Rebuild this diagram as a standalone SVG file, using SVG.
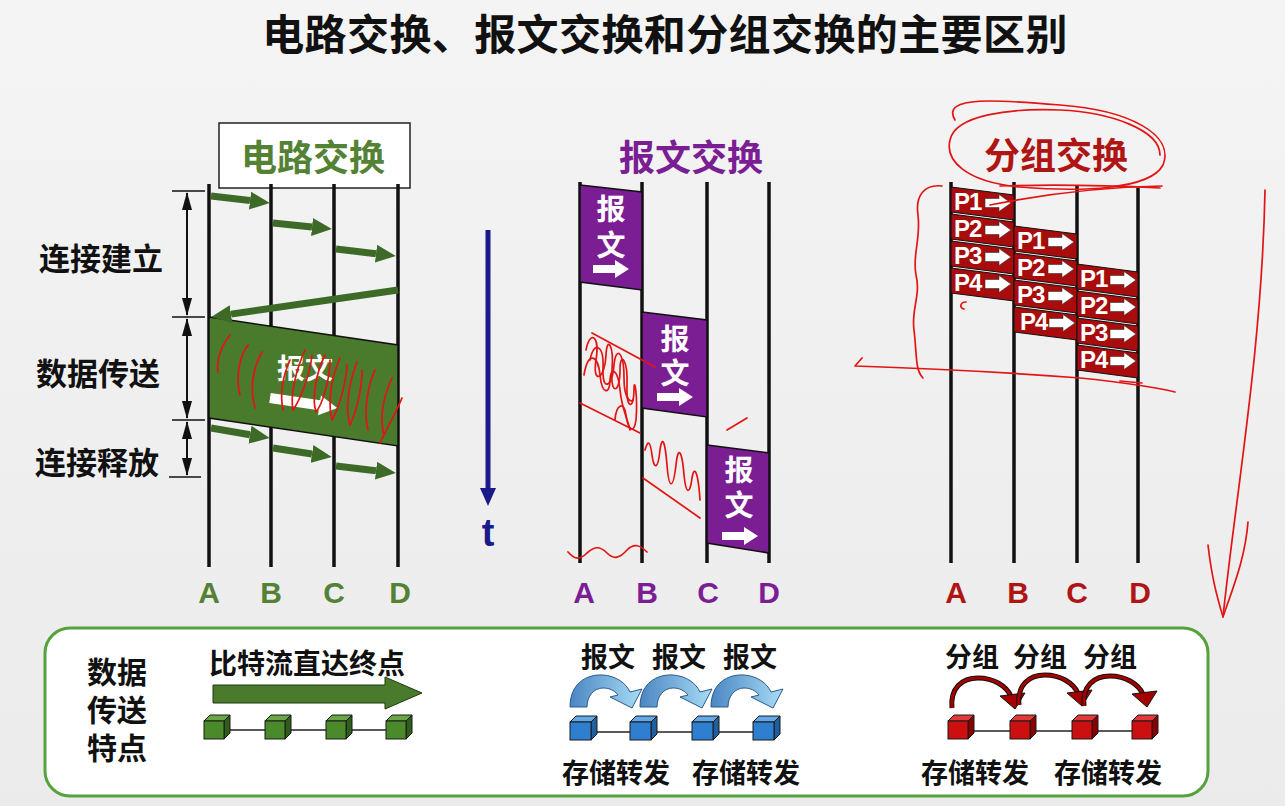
<svg xmlns="http://www.w3.org/2000/svg" width="1285" height="806" viewBox="0 0 1285 806">
<defs>
<linearGradient id="bg" x1="0" y1="0" x2="0" y2="1"><stop offset="0" stop-color="#f4f4f4"/><stop offset="1" stop-color="#ebebeb"/></linearGradient>
<linearGradient id="blueArr" x1="0" y1="0" x2="1" y2="0"><stop offset="0" stop-color="#4a86c2"/><stop offset="1" stop-color="#a8dcf5"/></linearGradient>
<marker id="gh" markerUnits="userSpaceOnUse" markerWidth="20" markerHeight="18" viewBox="0 0 20 18" refX="0" refY="9" orient="auto"><path d="M0,0 L20,9 L0,18 Z" fill="#3d6b27"/></marker>
<marker id="bh" markerUnits="userSpaceOnUse" markerWidth="18" markerHeight="10" viewBox="0 0 18 10" refX="17" refY="5" orient="auto-start-reverse"><path d="M0,0 L18,5 L0,10 Z" fill="#111"/></marker>
<path id="wArr" d="M0,-4 L22,-4 L22,-9 L36,0 L22,9 L22,4 L0,4 Z"/>
<path id="pArr" d="M0,-4.5 L14,-4.5 L14,-8.5 L26,0 L14,8.5 L14,4.5 L0,4.5 Z"/>
<path id="bArr" d="M0,0 C0,-24 17,-33 33,-32 C46,-31 56,-24 60,-15 L72,-18 L62,1 L40,-10 L48,-12 C44,-17 39,-19 33,-19 C24,-19 17,-11 17,0 Z"/>
</defs>
<style>
.cjk{font-family:'Liberation Sans','Noto Sans CJK SC','Noto Sans CJK JP',sans-serif;font-weight:700}
.lat{font-family:'Liberation Sans',Arial,sans-serif;font-weight:700}
.vl{stroke:#111;stroke-width:3.5}
.tick{stroke:#111;stroke-width:1.5}
.garr{stroke:#3d6b27;stroke-width:7;fill:none;marker-end:url(#gh)}
.darr{stroke:#111;stroke-width:2;marker-start:url(#bh);marker-end:url(#bh)}
.pur{fill:#7b1e94;stroke:#111;stroke-width:1.5}
.pkt{fill:#a80c0c;stroke:#111;stroke-width:1}
.wt{fill:#fff}
.scr{fill:none;stroke:#e31414;stroke-width:1.7;stroke-linecap:round;stroke-linejoin:round}
.link{stroke:#222;stroke-width:1.5}
.cs{stroke:#1a1a1a;stroke-width:1}
</style>
<rect width="1285" height="806" fill="url(#bg)"/>

<text class="cjk" x="665" y="50" font-size="42" font-weight="900" text-anchor="middle" fill="#111" letter-spacing="0.4">电路交换、报文交换和分组交换的主要区别</text>

<!-- Circuit switching -->
<g id="circuit">
<rect x="219" y="123" width="191" height="65" fill="#fff" stroke="#222" stroke-width="1.5"/>
<text class="cjk" x="313" y="171" font-size="36" text-anchor="middle" fill="#548235">电路交换</text>
<line class="vl" x1="209" y1="184" x2="209" y2="567"/>
<line class="vl" x1="271" y1="184" x2="271" y2="567"/>
<line class="vl" x1="334" y1="184" x2="334" y2="567"/>
<line class="vl" x1="398" y1="184" x2="398" y2="567"/>
<polygon points="209,317 398,345 398,446 209,418" fill="#4a7a2c" stroke="#111" stroke-width="1.5"/>
<text class="cjk" x="305" y="379" font-size="28" text-anchor="middle" fill="#fff">报文</text>
<path d="M0,-5 L50,-5 L50,-10 L68,0 L50,10 L50,5 L0,5 Z" fill="#fff" transform="translate(270,398) rotate(8.4)"/>
<g class="lat" font-size="30" fill="#548235" text-anchor="middle">
<text x="209" y="603">A</text><text x="271" y="603">B</text><text x="334" y="603">C</text><text x="400" y="603">D</text>
</g>
<g class="cjk" font-size="31" fill="#111" text-anchor="middle">
<text x="101" y="270">连接建立</text>
<text x="98" y="385">数据传送</text>
<text x="97" y="474">连接释放</text>
</g>
<line class="tick" x1="172" y1="191" x2="205" y2="191"/>
<line class="tick" x1="172" y1="317" x2="205" y2="317"/>
<line class="tick" x1="172" y1="420" x2="205" y2="420"/>
<line class="tick" x1="169" y1="477" x2="201" y2="477"/>
</g>

<!-- Message switching -->
<g id="message">
<text class="cjk" x="691" y="171" font-size="36" text-anchor="middle" fill="#7b1e94">报文交换</text>
<line x1="488" y1="230" x2="488" y2="490" stroke="#1a1a8a" stroke-width="5"/>
<polygon points="480,488 496,488 488,506" fill="#1a1a8a"/>
<text class="lat" x="488" y="546" font-size="38" text-anchor="middle" fill="#1a1a8a">t</text>
<line class="vl" x1="580" y1="182" x2="580" y2="563"/>
<line class="vl" x1="642" y1="182" x2="642" y2="563"/>
<line class="vl" x1="707" y1="182" x2="707" y2="563"/>
<line class="vl" x1="769" y1="182" x2="769" y2="563"/>
<polygon class="pur" points="580,185 642,192 642,290 580,282"/>
<polygon class="pur" points="642,312 707,320 707,417 642,408"/>
<polygon class="pur" points="707,445 769,453 769,553 707,543"/>
<g class="cjk" font-size="29" fill="#fff" text-anchor="middle">
<text x="611" y="220">报<tspan x="611" y="256">文</tspan></text>
<text x="675" y="350">报<tspan x="675" y="384">文</tspan></text>
<text x="739" y="481">报<tspan x="739" y="516">文</tspan></text>
</g>
<use href="#wArr" class="wt" transform="translate(593,269)"/>
<use href="#wArr" class="wt" transform="translate(657,397)"/>
<use href="#wArr" class="wt" transform="translate(722,536)"/>
<g class="lat" font-size="30" fill="#7b1e94" text-anchor="middle">
<text x="584" y="603">A</text><text x="647" y="603">B</text><text x="708" y="603">C</text><text x="769" y="603">D</text>
</g>
</g>

<!-- Packet switching -->
<g id="packet">
<text class="cjk" x="1056" y="169" font-size="36" text-anchor="middle" fill="#b01515">分组交换</text>
<line class="vl" x1="951" y1="182" x2="951" y2="563"/>
<line class="vl" x1="1014" y1="182" x2="1014" y2="563"/>
<line class="vl" x1="1077" y1="185" x2="1077" y2="563"/>
<line class="vl" x1="1138" y1="188" x2="1138" y2="563"/>
<g id="pktA">
<polygon class="pkt" points="951,187 1014,195 1014,220 951,212"/>
<polygon class="pkt" points="951,214 1014,222 1014,247 951,239"/>
<polygon class="pkt" points="951,241 1014,249 1014,274 951,266"/>
<polygon class="pkt" points="951,268 1014,276 1014,301 951,293"/>
</g>
<g id="pktB">
<polygon class="pkt" points="1014,226 1077,234 1077,259 1014,251"/>
<polygon class="pkt" points="1014,253 1077,261 1077,286 1014,278"/>
<polygon class="pkt" points="1014,280 1077,288 1077,313 1014,305"/>
<polygon class="pkt" points="1014,307 1077,315 1077,340 1014,332"/>
</g>
<g id="pktC">
<polygon class="pkt" points="1077,264 1138,272 1138,297 1077,289"/>
<polygon class="pkt" points="1077,291 1138,299 1138,324 1077,316"/>
<polygon class="pkt" points="1077,318 1138,326 1138,351 1077,343"/>
<polygon class="pkt" points="1077,345 1138,353 1138,378 1077,370"/>
</g>
<g class="lat" font-size="24" fill="#fff" letter-spacing="-1">
<text x="954" y="210">P1</text><text x="954" y="237">P2</text><text x="954" y="264">P3</text><text x="954" y="291">P4</text>
<text x="1017" y="249">P1</text><text x="1017" y="276">P2</text><text x="1017" y="303">P3</text><text x="1020" y="330">P4</text>
<text x="1080" y="287">P1</text><text x="1080" y="314">P2</text><text x="1080" y="341">P3</text><text x="1080" y="368">P4</text>
</g>
<g class="wt" stroke="#333" stroke-width="0.6">
<use href="#pArr" transform="translate(985,203)"/><use href="#pArr" transform="translate(985,230)"/><use href="#pArr" transform="translate(985,257)"/><use href="#pArr" transform="translate(985,284)"/>
<use href="#pArr" transform="translate(1048,242)"/><use href="#pArr" transform="translate(1048,269)"/><use href="#pArr" transform="translate(1048,296)"/><use href="#pArr" transform="translate(1049,323)"/>
<use href="#pArr" transform="translate(1110,280)"/><use href="#pArr" transform="translate(1110,307)"/><use href="#pArr" transform="translate(1110,334)"/><use href="#pArr" transform="translate(1110,361)"/>
</g>
<g class="lat" font-size="30" fill="#b01515" text-anchor="middle">
<text x="956" y="603">A</text><text x="1018" y="603">B</text><text x="1077" y="603">C</text><text x="1140" y="603">D</text>
</g>
</g>

<!-- Connectors -->
<g id="connectors">
<line class="garr" x1="211" y1="196" x2="250" y2="200.6"/>
<line class="garr" x1="273" y1="223" x2="312" y2="227"/>
<line class="garr" x1="336" y1="249" x2="376" y2="253.7"/>
<line class="garr" x1="398" y1="290" x2="231" y2="314.1"/>
<line class="garr" x1="211" y1="428" x2="250" y2="434.7"/>
<line class="garr" x1="273" y1="448" x2="312" y2="454"/>
<line class="garr" x1="336" y1="466" x2="376" y2="470.7"/>
<line class="darr" x1="187" y1="193" x2="187" y2="315"/>
<line class="darr" x1="187" y1="319" x2="187" y2="418"/>
<line class="darr" x1="187" y1="422" x2="187" y2="475"/>
</g>

<!-- Bottom panel -->
<g id="panel">
<rect x="45" y="628" width="1163" height="168" rx="25" fill="#fff" stroke="#56a23c" stroke-width="3"/>
<g class="cjk" font-size="30" fill="#111" text-anchor="middle">
<text x="117" y="683">数据</text><text x="117" y="721">传送</text><text x="117" y="759">特点</text>
</g>
</g>
<g id="circuit-feature">
<text class="cjk" x="307" y="674" font-size="28" text-anchor="middle" fill="#111">比特流直达终点</text>
<polygon points="213,685 385,685 385,677 422,693 385,709 385,703 213,703" fill="#4a7a2c" stroke="#1d3a10" stroke-width="1"/>
<line class="link" x1="224" y1="730" x2="386" y2="730"/>
<g fill="#4a8a2a">
<g class="cs"><path d="M204,721 l6,-6 h20 l-6,6 z" fill="#6aa548"/><path d="M224,721 l6,-6 v18 l-6,6 z" fill="#2f5e1a"/><rect x="204" y="721" width="20" height="18"/></g>
<g class="cs"><path d="M265,721 l6,-6 h20 l-6,6 z" fill="#6aa548"/><path d="M285,721 l6,-6 v18 l-6,6 z" fill="#2f5e1a"/><rect x="265" y="721" width="20" height="18"/></g>
<g class="cs"><path d="M326,721 l6,-6 h20 l-6,6 z" fill="#6aa548"/><path d="M346,721 l6,-6 v18 l-6,6 z" fill="#2f5e1a"/><rect x="326" y="721" width="20" height="18"/></g>
<g class="cs"><path d="M386,721 l6,-6 h20 l-6,6 z" fill="#6aa548"/><path d="M406,721 l6,-6 v18 l-6,6 z" fill="#2f5e1a"/><rect x="386" y="721" width="20" height="18"/></g>
</g>
</g>
<g id="message-feature">
<g class="cjk" font-size="27" fill="#111" text-anchor="middle">
<text x="608" y="667">报文</text><text x="679" y="667">报文</text><text x="750" y="667">报文</text>
<text x="616" y="783">存储转发</text><text x="746" y="783">存储转发</text>
</g>
<g fill="url(#blueArr)" stroke="#2a5a8a" stroke-width="1">
<use href="#bArr" transform="translate(570,707)"/>
<use href="#bArr" transform="translate(640,707)"/>
<use href="#bArr" transform="translate(711,707)"/>
</g>
<line class="link" x1="592" y1="732" x2="753" y2="732"/>
<g fill="#2f7fd0">
<g class="cs"><path d="M570,722 l6,-6 h21 l-6,6 z" fill="#64a8e6"/><path d="M591,722 l6,-6 v18 l-6,6 z" fill="#1f5fa0"/><rect x="570" y="722" width="21" height="18"/></g>
<g class="cs"><path d="M630,722 l6,-6 h21 l-6,6 z" fill="#64a8e6"/><path d="M651,722 l6,-6 v18 l-6,6 z" fill="#1f5fa0"/><rect x="630" y="722" width="21" height="18"/></g>
<g class="cs"><path d="M692,722 l6,-6 h21 l-6,6 z" fill="#64a8e6"/><path d="M713,722 l6,-6 v18 l-6,6 z" fill="#1f5fa0"/><rect x="692" y="722" width="21" height="18"/></g>
<g class="cs"><path d="M753,722 l6,-6 h21 l-6,6 z" fill="#64a8e6"/><path d="M774,722 l6,-6 v18 l-6,6 z" fill="#1f5fa0"/><rect x="753" y="722" width="21" height="18"/></g>
</g>
</g>
<g id="packet-feature">
<g class="cjk" font-size="27" fill="#111" text-anchor="middle">
<text x="972" y="667">分组</text><text x="1040" y="667">分组</text><text x="1110" y="667">分组</text>
<text x="975" y="783">存储转发</text><text x="1108" y="783">存储转发</text>
</g>
<g id="redArr">
<path d="M952,708 C950,688 962,678 978,678 C994,678 1006,686 1011,696" fill="none" stroke="#111" stroke-width="5"/>
<path d="M952,708 C950,688 962,678 978,678 C994,678 1006,686 1011,696" fill="none" stroke="#a50000" stroke-width="3"/>
<polygon points="1000,696 1025,693 1015,709" fill="#a50000" stroke="#111" stroke-width="1"/>
</g>
<use href="#redArr" transform="translate(67,-3)"/>
<use href="#redArr" transform="translate(132,-2)"/>
<line class="link" x1="968" y1="731" x2="1132" y2="731"/>
<g fill="#cc1010">
<g class="cs"><path d="M948,721 l6,-6 h20 l-6,6 z" fill="#e23a3a"/><path d="M968,721 l6,-6 v18 l-6,6 z" fill="#8a0000"/><rect x="948" y="721" width="20" height="18"/></g>
<g class="cs"><path d="M1010,721 l6,-6 h20 l-6,6 z" fill="#e23a3a"/><path d="M1030,721 l6,-6 v18 l-6,6 z" fill="#8a0000"/><rect x="1010" y="721" width="20" height="18"/></g>
<g class="cs"><path d="M1072,721 l6,-6 h20 l-6,6 z" fill="#e23a3a"/><path d="M1092,721 l6,-6 v18 l-6,6 z" fill="#8a0000"/><rect x="1072" y="721" width="20" height="18"/></g>
<g class="cs"><path d="M1132,721 l6,-6 h20 l-6,6 z" fill="#e23a3a"/><path d="M1152,721 l6,-6 v18 l-6,6 z" fill="#8a0000"/><rect x="1132" y="721" width="20" height="18"/></g>
</g>
</g>

<!-- Hand-drawn red annotations -->
<g id="annotations" class="scr">
<path d="M230,335 C222,345 216,360 218,372"/>
<path d="M248,345 C238,358 236,380 240,395"/>
<path d="M262,352 C252,370 250,390 255,408"/>
<path d="M290,360 C282,378 280,395 283,410"/>
<path d="M305,350 C296,370 290,395 293,410 C300,400 310,375 312,355"/>
<path d="M325,355 C315,375 312,400 316,412 C322,405 330,380 330,360"/>
<path d="M340,358 C330,380 328,405 332,420 C338,410 346,385 347,365"/>
<path d="M357,362 C348,385 345,410 350,425 C356,412 362,390 362,370"/>
<path d="M375,370 C366,390 364,415 368,430"/>
<path d="M392,378 C382,400 380,420 384,435"/>
<path d="M402,398 C395,415 386,430 380,443"/>
<path d="M586,350 C590,330 600,335 596,360 C592,385 605,380 606,355 C607,335 614,345 612,370 C610,395 620,395 620,370 C620,350 628,360 627,385 C626,410 634,410 634,390 C634,375 638,395 636,420 C634,435 628,430 626,415 C624,400 616,405 615,420"/>
<path d="M584,375 C588,350 598,355 600,375 C602,395 610,395 610,380 C611,365 618,370 620,390 C622,410 628,420 630,430"/>
<path d="M590,360 C594,340 604,345 603,368 C602,392 612,388 614,365 C616,345 624,352 624,378 C624,402 632,402 633,400"/>
<path d="M592,333 L655,367"/>
<path d="M580,403 L640,433"/>
<path d="M645,450 C648,440 650,440 652,455 C654,470 658,470 660,450 C662,435 665,440 667,465 C669,490 673,490 676,465 C678,445 682,450 684,475 C686,495 690,495 692,478 C694,465 698,470 700,500"/>
<path d="M643,478 L700,518"/>
<path d="M727,430 L747,418"/>
<path d="M568,552 C575,560 580,560 587,553 C595,546 600,546 607,553 C614,560 620,558 627,550 C634,543 640,545 647,552"/>
<path d="M955,120 C940,95 1000,100 1060,105 C1130,110 1175,135 1163,165 C1150,190 1080,192 1020,187 C965,182 945,160 950,140 C955,115 1010,108 1060,110 C1110,112 1160,130 1160,155"/>
<path d="M990,205 C1040,195 1100,187 1162,186"/>
<path d="M1000,186 C1060,184 1120,186 1160,188"/>
<path d="M942,186 C925,184 915,195 918,215 C921,240 912,255 916,275 C921,295 911,310 914,330 C917,355 915,370 923,378"/>
<path d="M862,358 L855,366 C920,368 1000,372 1080,378 C1120,382 1150,386 1175,392"/>
<path d="M1120,381 L1142,383"/>
<path d="M966,302 C960,302 959,308 964,309"/>
<path d="M1265,190 C1262,350 1235,500 1223,617"/>
<path d="M1208,545 C1212,580 1218,600 1223,617 C1232,590 1245,560 1248,522"/>
</g>
</svg>
